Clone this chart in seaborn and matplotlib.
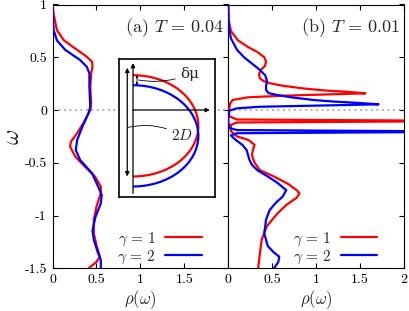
import numpy as np
import pandas as pd
import matplotlib
matplotlib.use("Agg")
import matplotlib.pyplot as plt
from matplotlib.patches import Arc
import seaborn as sns

sns.set_style("ticks")
plt.rcParams.update({
    "font.family": ["serif"],
    "font.serif": ["cmr10", "DejaVu Serif"],
    "mathtext.fontset": "cm",
    "axes.formatter.use_mathtext": True,
    "axes.linewidth": 0.8,
    "xtick.direction": "in",
    "ytick.direction": "in",
    "xtick.major.size": 3.5,
    "ytick.major.size": 3.5,
    "xtick.major.width": 0.8,
    "ytick.major.width": 0.8,
    "xtick.color": "black",
    "ytick.color": "black",
    "axes.edgecolor": "black",
    "lines.solid_joinstyle": "round",
})

# ─── Data: spectral function rho(omega) ────────────────────────────────────
# panel (a) T = 0.04
omega_a_g1 = [1.0, 0.9, 0.758, 0.66, 0.57, 0.505, 0.458, 0.41, 0.348, 0.22, 0.066,
              0.0, -0.126, -0.22, -0.3, -0.347, -0.442, -0.537, -0.632, -0.727,
              -0.79, -0.916, -1.04, -1.17, -1.295, -1.39, -1.44, -1.5]
rho_a_g1 = [0.0, 0.015, 0.05, 0.13, 0.28, 0.39, 0.45, 0.455, 0.44, 0.43, 0.44,
            0.43, 0.35, 0.28, 0.21, 0.20, 0.26, 0.37, 0.485, 0.55,
            0.55, 0.50, 0.47, 0.47, 0.505, 0.54, 0.50, 0.41]
omega_a_g2 = [1.0, 0.88, 0.758, 0.66, 0.57, 0.473, 0.41, 0.348, 0.22, 0.03, -0.03,
              -0.158, -0.285, -0.38, -0.474, -0.60, -0.727, -0.806, -0.885, -1.01,
              -1.14, -1.23, -1.36, -1.42, -1.5]
rho_a_g2 = [0.0, 0.005, 0.013, 0.05, 0.145, 0.315, 0.39, 0.42, 0.42, 0.43, 0.41,
            0.34, 0.28, 0.265, 0.315, 0.45, 0.52, 0.56, 0.55, 0.49,
            0.455, 0.47, 0.52, 0.55, 0.55]

# panel (b) T = 0.01
omega_b_g1 = [1.0, 0.85, 0.75, 0.66, 0.6, 0.55, 0.5, 0.46, 0.42, 0.38, 0.34, 0.30,
              0.275, 0.253, 0.23, 0.205, 0.185, 0.173, 0.158, 0.145, 0.135, 0.12,
              0.095, 0.06, 0.0, -0.06, -0.09, -0.104, -0.118, -0.14, -0.2, -0.25,
              -0.284, -0.33, -0.38, -0.43, -0.5, -0.57, -0.63, -0.7, -0.76, -0.79,
              -0.83, -0.9, -0.98, -1.10, -1.23, -1.36, -1.5]
rho_b_g1 = [0.0, 0.005, 0.03, 0.11, 0.22, 0.33, 0.41, 0.43, 0.42, 0.37, 0.35, 0.36,
            0.40, 0.48, 0.62, 0.85, 1.1, 1.35, 1.56, 1.0, 0.6, 0.22,
            0.05, 0.02, 0.01, 0.01, 0.10, 3.0, 0.10, 0.03, 0.03, 0.10,
            0.23, 0.30, 0.28, 0.27, 0.30, 0.36, 0.52, 0.68, 0.78, 0.81,
            0.78, 0.66, 0.56, 0.44, 0.38, 0.36, 0.34]
omega_b_g2 = [1.0, 0.8, 0.68, 0.57, 0.5, 0.44, 0.38, 0.33, 0.28, 0.22, 0.19, 0.16,
              0.142, 0.12, 0.095, 0.08, 0.07, 0.054, 0.045, 0.031, 0.016, -0.006,
              -0.1, -0.17, -0.19, -0.205, -0.22, -0.24, -0.28, -0.33, -0.38, -0.47,
              -0.52, -0.57, -0.63, -0.69, -0.76, -0.82, -0.88, -0.95, -1.04, -1.17,
              -1.29, -1.35, -1.39, -1.44, -1.5]
rho_b_g2 = [0.0, 0.005, 0.03, 0.10, 0.18, 0.27, 0.36, 0.42, 0.44, 0.43, 0.43, 0.46,
            0.56, 0.72, 0.97, 1.2, 1.43, 1.71, 1.2, 0.36, 0.10, 0.01,
            0.0, 0.01, 0.10, 3.0, 0.10, 0.03, 0.08, 0.16, 0.21, 0.24,
            0.27, 0.33, 0.45, 0.56, 0.66, 0.62, 0.54, 0.47, 0.43, 0.41,
            0.45, 0.52, 0.58, 0.57, 0.52]

panel_labels = [r"(a) $T\,=\,0.04$", r"(b) $T\,=\,0.01$"]
series_labels = [r"$\gamma\,=\,1$", r"$\gamma\,=\,2$"]
series_colors = ["#ff0000", "#0000ff"]
xticks_a = [0, 0.5, 1, 1.5]
xticks_b = [0, 0.5, 1, 1.5, 2]
yticks = [1, 0.5, 0, -0.5, -1, -1.5]
ytick_labels = ["1", "0.5", "0", "-0.5", "-1", "-1.5"]

# inset schematic: semicircular DOS, shifted by delta mu
inset_D = 0.48
inset_rx = 0.74
inset_centers = [-0.15, -0.245]

# ─── Figure ────────────────────────────────────────────────────────────────
fig = plt.figure(figsize=(4.09, 3.11), dpi=100)
W, H = 409, 311
ax_l, ax_r, ax_t, ax_b = 52.5, 404, 4.5, 268.3
mid = (ax_l + ax_r) / 2
axA = fig.add_axes([ax_l / W, 1 - ax_b / H, (mid - ax_l) / W, (ax_b - ax_t) / H])
axB = fig.add_axes([mid / W, 1 - ax_b / H, (ax_r - mid) / W, (ax_b - ax_t) / H])

panels = [
    (axA, [(rho_a_g1, omega_a_g1), (rho_a_g2, omega_a_g2)], xticks_a),
    (axB, [(rho_b_g1, omega_b_g1), (rho_b_g2, omega_b_g2)], xticks_b),
]

for i, (ax, series, xt) in enumerate(panels):
    ax.axhline(0, color="#9a9a9a", lw=1.1, ls=(0, (1.2, 2.4)), zorder=1)
    for (rho, om), lab, col in zip(series, series_labels, series_colors):
        df = pd.DataFrame({"rho": rho, "omega": om})
        sns.lineplot(data=df, x="rho", y="omega", sort=False, estimator=None,
                     color=col, lw=1.6, ax=ax, label=lab, zorder=3)
    ax.set_xlim(0, 2)
    ax.set_ylim(-1.5, 1)
    ax.set_xticks(xt)
    ax.set_xticklabels([f"{v:g}" for v in xt], fontsize=10)
    ax.set_yticks(yticks)
    ax.set_xlabel(r"$\rho(\omega)$", fontsize=12, labelpad=2)
    ax.tick_params(top=True, right=True, pad=4)
    ax.text(0.975, 0.955, panel_labels[i], transform=ax.transAxes, ha="right",
            va="top", fontsize=13)
    ax.legend(loc="lower right", bbox_to_anchor=(0.90, -0.025), frameon=False,
              markerfirst=False, handlelength=2.4, handletextpad=0.6,
              labelspacing=0.05, fontsize=11, borderaxespad=0.2)

axA.set_yticklabels(ytick_labels, fontsize=10)
axA.set_ylabel(r"$\omega$", fontsize=17, labelpad=0)
axB.set_yticklabels([])
axB.set_ylabel("")
axB.tick_params(left=False)

# ─── Inset schematic ───────────────────────────────────────────────────────
in_l, in_r, in_t, in_b = 119, 215, 59, 197
ins = fig.add_axes([in_l / W, 1 - in_b / H, (in_r - in_l) / W, (in_b - in_t) / H])
ins.set_xlim((in_l - 133) / 88.3, (in_r - 133) / 88.3)
ins.set_ylim((110 - in_b) / 105.5, (110 - in_t) / 105.5)
ins.set_xticks([])
ins.set_yticks([])
for s in ins.spines.values():
    s.set_linewidth(1.2)
ins.set_facecolor("white")
ins.set_zorder(5)

for c, col in zip(inset_centers, series_colors):
    ins.add_patch(Arc((0, c), 2 * inset_rx, 2 * inset_D, theta1=-90, theta2=90,
                      color=col, lw=1.6))

arrow_kw = dict(arrowstyle="-|>", color="black", lw=0.9, mutation_scale=6,
                shrinkA=0, shrinkB=0)
ins.annotate("", xy=(0, 0.445), xytext=(0, -0.79), arrowprops=arrow_kw)
ins.annotate("", xy=(0.87, 0), xytext=(0, 0), arrowprops=arrow_kw)
dbl_kw = dict(arrowstyle="<|-|>", color="black", lw=0.9, mutation_scale=6,
              shrinkA=0, shrinkB=0)
ins.annotate("", xy=(-0.065, 0.40), xytext=(-0.065, -0.63), arrowprops=dbl_kw)
ins.annotate("", xy=(0.045, inset_centers[0] + inset_D),
             xytext=(0.045, inset_centers[1] + inset_D),
             arrowprops=dict(arrowstyle="<|-|>", color="black", lw=0.6,
                             mutation_scale=3, shrinkA=0, shrinkB=0))
ins.annotate("δμ", xy=(0.06, 0.285), xytext=(0.53, 0.34), fontsize=11,
             family=["DejaVu Serif"], va="center", ha="left",
             arrowprops=dict(arrowstyle="-", color="black", lw=0.6,
                             connectionstyle="arc3,rad=-0.15", shrinkA=1, shrinkB=0))
ins.annotate(r"$2D$", xy=(-0.055, -0.165), xytext=(0.43, -0.245), fontsize=11,
             va="center", ha="left",
             arrowprops=dict(arrowstyle="-", color="black", lw=0.6,
                             connectionstyle="arc3,rad=0.2", shrinkA=1, shrinkB=0))

fig.savefig("out.png", dpi=100)
